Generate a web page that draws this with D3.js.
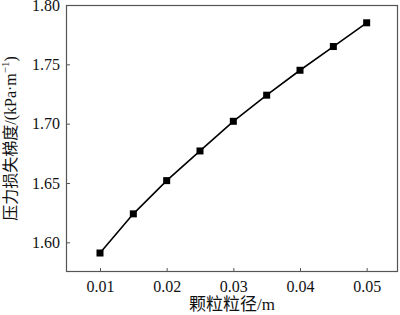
<!DOCTYPE html>
<html>
<head>
<meta charset="utf-8">
<script src="https://cdn.jsdelivr.net/npm/d3@7"></script>
<style>
  body { margin: 0; background: #fff; }
  svg text { font-family: "Liberation Serif", "Noto Sans CJK SC", serif; }
</style>
</head>
<body>
<svg id="chart" width="400" height="315"></svg>
<script>
// particle size (m) vs pressure loss gradient (kPa/m)
const sizes = [0.010, 0.015, 0.020, 0.025, 0.030, 0.035, 0.040, 0.045, 0.050];
const gradients = [1.591, 1.624, 1.652, 1.677, 1.702, 1.724, 1.745, 1.765, 1.785];
const xTicks = [0.01, 0.02, 0.03, 0.04, 0.05];
const yTicks = [1.60, 1.65, 1.70, 1.75, 1.80];

const svg = d3.select("#chart");
const margin = { left: 66, top: 5, right: 2, bottom: 43 };
const width = 400 - margin.left - margin.right,
  height = 315 - margin.top - margin.bottom;
const frameColor = "#555";

const x = d3.scaleLinear().domain([0.0049, 0.0547]).range([0, width]);
const y = d3.scaleLinear().domain([1.575, 1.80]).range([height, 0]);

const g = svg.append("g")
  .attr("transform", `translate(${margin.left},${margin.top})`);

// frame
g.append("rect")
  .attr("x", 0.5)
  .attr("y", 0.5)
  .attr("width", width - 1)
  .attr("height", height - 1)
  .attr("fill", "none")
  .attr("stroke", frameColor)
  .attr("stroke-width", 1.2);

const xAxis = g.append("g")
  .attr("transform", `translate(0,${height})`)
  .call(d3.axisBottom(x).tickValues(xTicks).tickSize(-4).tickPadding(9).tickFormat(d3.format(".2f")));
const yAxis = g.append("g")
  .call(d3.axisLeft(y).tickValues(yTicks).tickSize(-4).tickPadding(6).tickFormat(d3.format(".2f")));

[xAxis, yAxis].forEach(ax => {
  ax.attr("font-family", null);
  ax.select(".domain").remove();
  ax.selectAll(".tick line").attr("stroke", frameColor);
  ax.selectAll(".tick text")
    .attr("font-size", 16)
    .attr("fill", "#111");
});

// line + markers
const line = d3.line()
  .x((d, i) => x(sizes[i]))
  .y(d => y(d));

g.append("path")
  .datum(gradients)
  .attr("d", line)
  .attr("fill", "none")
  .attr("stroke", "#000")
  .attr("stroke-width", 1.6);

const ms = 7;
g.selectAll("rect.pt")
  .data(gradients)
  .join("rect")
  .attr("class", "pt")
  .attr("x", (d, i) => x(sizes[i]) - ms / 2)
  .attr("y", d => y(d) - ms / 2)
  .attr("width", ms)
  .attr("height", ms)
  .attr("fill", "#000");

// axis titles
svg.append("text")
  .attr("x", margin.left + width / 2)
  .attr("y", 310)
  .attr("text-anchor", "middle")
  .attr("font-size", 17)
  .attr("fill", "#111")
  .text("颗粒粒径/m");

const yTitle = svg.append("text")
  .attr("transform", `translate(16,${margin.top + height / 2}) rotate(-90)`)
  .attr("text-anchor", "middle")
  .attr("font-size", 16)
  .attr("fill", "#111");
yTitle.append("tspan").text("压力损失梯度/(kPa·m");
yTitle.append("tspan").attr("font-size", 11).attr("dy", -7).text("−1");
yTitle.append("tspan").attr("dy", 7).text(")");
</script>
</body>
</html>
